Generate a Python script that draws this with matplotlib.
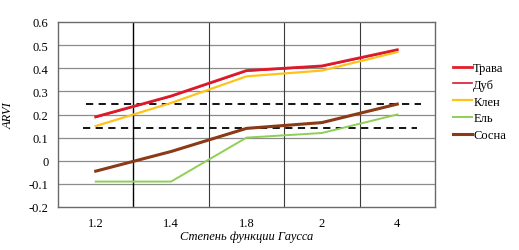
import numpy as np
import matplotlib
matplotlib.use('Agg')
from matplotlib import pyplot as plt

# Data
categories = ['1.2', '1.4', '1.8', '2', '4']
trava = [0.19, 0.28, 0.39, 0.41, 0.48]
dub = [0.188, 0.278, 0.388, 0.408, 0.478]
klen = [0.15, 0.25, 0.365, 0.39, 0.47]
el = [-0.09, -0.09, 0.10, 0.12, 0.20]
sosna = [-0.045, 0.04, 0.14, 0.165, 0.245]
thresholds = [0.245, 0.14]
threshold_spans = [(-0.13, 4.31), (-0.17, 4.26)]

plt.rcParams['font.family'] = ['Liberation Serif', 'DejaVu Serif']

fig = plt.figure(figsize=(5.19, 2.51), dpi=100)
ax = fig.add_axes([58/519, 1-208/251, (435-58)/519, (208-23)/251])

x = np.arange(len(categories))

# grid
for yv in np.arange(-0.1, 0.6, 0.1):
    ax.axhline(yv, color='#8c8c8c', lw=0.9, zorder=0)
for i, xv in enumerate(x[:-1] + 0.5):
    ax.axvline(xv, color='#000000' if i == 0 else '#3a3a3a', lw=1.0 if i == 0 else 0.8, zorder=0)

# threshold lines
for yv, (x0, x1) in zip(thresholds, threshold_spans):
    ax.plot([x0, x1], [yv, yv], color='black', lw=1.3, ls=(0, (4, 3)), zorder=1)

ax.plot(x, trava, color='#e31e2c', lw=2.0, label='Трава', zorder=3)
ax.plot(x, dub, color='#d7192d', lw=1.2, label='Дуб', zorder=3)
ax.plot(x, klen, color='#ffc21a', lw=1.6, label='Клен', zorder=3)
ax.plot(x, el, color='#8fcf55', lw=1.4, label='Ель', zorder=3)
ax.plot(x, sosna, color='#8a3a16', lw=2.2, label='Сосна', zorder=3)

ax.set_xlim(-0.5, 4.5)
ax.set_ylim(-0.2, 0.6)
ax.set_xticks(x)
ax.set_xticklabels(categories)
ax.set_yticks(np.round(np.arange(-0.2, 0.61, 0.1), 1))
ax.set_yticklabels(['-0.2', '-0.1', '0', '0.1', '0.2', '0.3', '0.4', '0.5', '0.6'])
ax.tick_params(length=0, labelsize=9, pad=7)
for s in ax.spines.values():
    s.set_color('#6a6a6a')
    s.set_linewidth(1.0)

ax.set_ylabel('ARVI', style='italic', fontsize=9)
ax.yaxis.set_label_coords(-0.115, 0.5)
ax.set_xlabel('Степень функции Гаусса', style='italic', fontsize=9)
ax.xaxis.set_label_coords(0.50, -0.157)
ax.xaxis.label.set_va('center')

leg = ax.legend(loc='center left', bbox_to_anchor=(1.035, 0.57), frameon=False,
                fontsize=9, handlelength=1.5, handletextpad=0.1, labelspacing=0.38,
                borderaxespad=0)

fig.savefig('out.png', dpi=100)
